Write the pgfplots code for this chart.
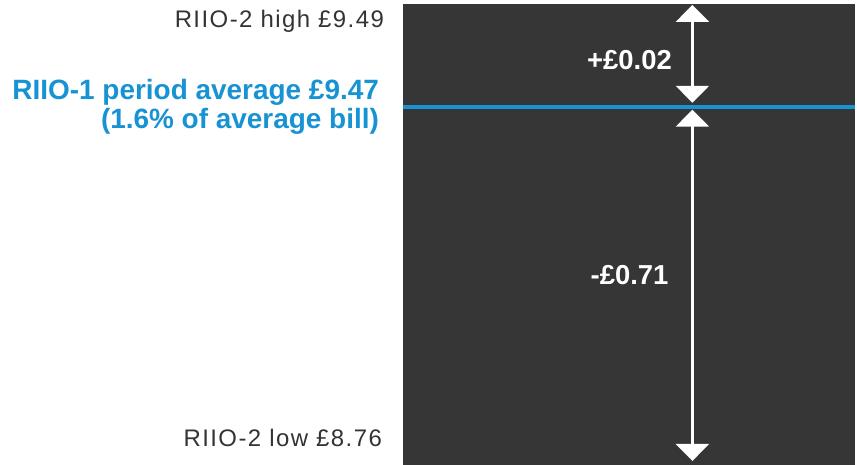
\documentclass[border=0pt]{standalone}
\usepackage{fontspec}
\setmainfont{Liberation Sans}
\usepackage{pgfplots}
\pgfplotsset{compat=1.18}
\usetikzlibrary{arrows.meta}
\definecolor{darkbg}{HTML}{363636}
\definecolor{riioblue}{HTML}{1793D3}
\definecolor{greytext}{HTML}{333333}
\begin{document}
\begin{tikzpicture}
\begin{axis}[
  scale only axis, width=857bp, height=466bp,
  xmin=0, xmax=857, ymin=0, ymax=466,
  hide axis, clip=false,
]
\path (rel axis cs:0,0) rectangle (rel axis cs:1,1);
% dark panel
\addplot[fill=darkbg, draw=none] coordinates {(404,0) (857,0) (857,462) (404,462)} -- cycle;
% RIIO-1 average line
\addplot[riioblue, line width=4bp] coordinates {(404,359) (857,359)};
% arrows
\addplot[white, line width=3bp, {Triangle[width=33bp,length=17bp]}-{Triangle[width=33bp,length=17bp]}] coordinates {(694,461) (694,363)};
\addplot[white, line width=3bp, {Triangle[width=33bp,length=17bp]}-{Triangle[width=33bp,length=17bp]}] coordinates {(694,356) (694,4)};
% labels
\node[anchor=base east, text=greytext, font={\fontsize{24bp}{28bp}\selectfont\addfontfeatures{LetterSpace=6}}, inner sep=0pt] at (axis cs:385,438) {RIIO-2 high £9.49};
\node[anchor=base east, text=greytext, font={\fontsize{24bp}{28bp}\selectfont\addfontfeatures{LetterSpace=6}}, inner sep=0pt] at (axis cs:383,18) {RIIO-2 low £8.76};
\node[anchor=base east, text=riioblue, font={\fontsize{28bp}{32bp}\selectfont\bfseries}, inner sep=0pt] at (axis cs:380,366) {RIIO-1 period average £9.47};
\node[anchor=base east, text=riioblue, font={\fontsize{28bp}{32bp}\selectfont\bfseries}, inner sep=0pt] at (axis cs:380,337) {(1.6\% of average bill)};
\node[anchor=base, text=white, font={\fontsize{27.5bp}{32bp}\selectfont\bfseries}, inner sep=0pt] at (axis cs:631,396) {+£0.02};
\node[anchor=base, text=white, font={\fontsize{27.5bp}{32bp}\selectfont\bfseries}, inner sep=0pt] at (axis cs:631,181) {-£0.71};
\end{axis}
\end{tikzpicture}
\end{document}
